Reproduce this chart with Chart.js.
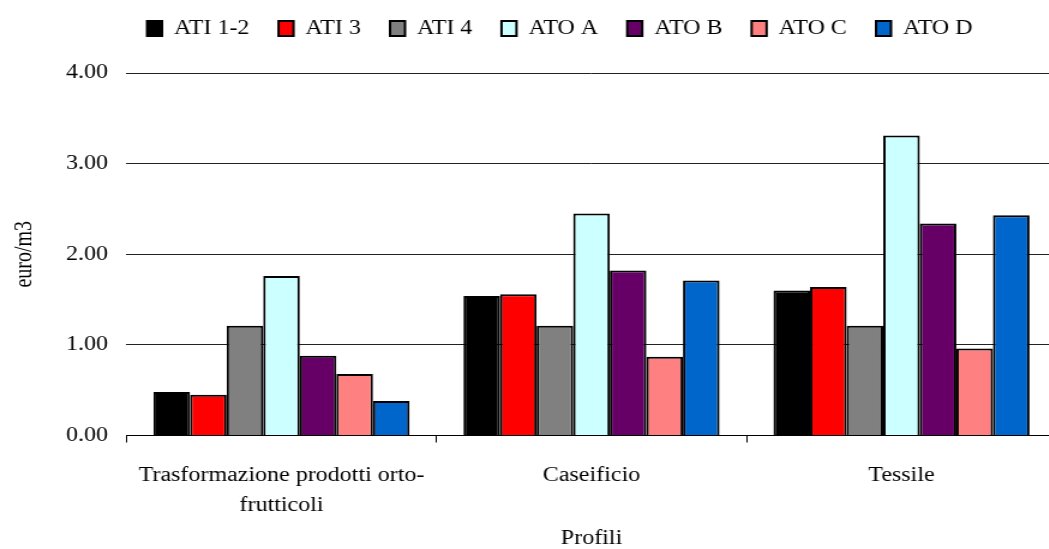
<!DOCTYPE html>
<html>
<head>
<meta charset="utf-8">
<script src="https://cdn.jsdelivr.net/npm/chart.js@4.4.1/dist/chart.umd.min.js"></script>
<style>
  html, body { margin: 0; padding: 0; background: #fff; overflow: hidden; }
  #wrap { width: 884px; height: 549px; transform: scaleX(1.2); transform-origin: 0 0; }
</style>
</head>
<body>
<div id="wrap"><canvas id="c" width="884" height="549"></canvas></div>
<script>
const categories = [["Trasformazione prodotti orto-", "frutticoli"], "Caseificio", "Tessile"];
const seriesNames = ["ATI 1-2", "ATI 3", "ATI 4", "ATO A", "ATO B", "ATO C", "ATO D"];
const ati12 = [0.48, 1.54, 1.60];
const ati3  = [0.45, 1.56, 1.64];
const ati4  = [1.21, 1.21, 1.21];
const atoA  = [1.76, 2.45, 3.31];
const atoB  = [0.88, 1.82, 2.34];
const atoC  = [0.68, 0.87, 0.96];
const atoD  = [0.38, 1.71, 2.43];
const yTicks = [0, 1, 2, 3, 4];
const yTitle = "euro/m3";
const xTitle = "Profili";

const colors = ["#000000", "#FF0000", "#808080", "#CCFFFF", "#660066", "#FF8080", "#0066CC"];
const values = [ati12, ati3, ati4, atoA, atoB, atoC, atoD];

const FONT = "'Liberation Serif', 'Times New Roman', serif";

const legendShift = {
  id: 'legendShift',
  afterLayout(chart) {
    const lg = chart.legend;
    if (!lg) return;
    const dx = 466.5 - (lg.left + lg.right) / 2;
    const dy = -24.5;
    lg.left += dx; lg.right += dx;
    lg.top += dy; lg.bottom += dy;
  }
};

new Chart(document.getElementById('c'), {
  type: 'bar',
  data: {
    labels: categories,
    datasets: seriesNames.map((name, i) => ({
      label: name,
      data: values[i],
      backgroundColor: colors[i],
      borderColor: '#000000',
      borderWidth: 2,
      categoryPercentage: 0.826,
      barPercentage: 1.0
    }))
  },
  options: {
    responsive: false,
    animation: false,
    layout: { padding: { left: 0, right: 3.6, top: 18.7, bottom: 0 } },
    plugins: {
      tooltip: { enabled: false },
      legend: {
        position: 'top',
        labels: {
          font: { family: FONT, size: 20 },
          color: '#000',
          boxWidth: 12.5,
          boxHeight: 15,
          padding: 24.3
        }
      }
    },
    scales: {
      x: {
        afterFit(scale) { scale.height = 113.5; },
        grid: { display: true, drawOnChartArea: false, drawTicks: true, tickLength: 7, color: '#000', offset: true },
        border: { display: true, color: '#000', width: 1 },
        ticks: {
          font: { family: FONT, size: 20, lineHeight: 1.535 },
          color: '#000',
          padding: 17.5,
          maxRotation: 0,
          autoSkip: false
        },
        title: {
          display: true,
          text: xTitle,
          font: { family: FONT, size: 20 },
          color: '#000',
          padding: { top: 0, bottom: -2 }
        }
      },
      y: {
        min: 0,
        max: 4,
        afterFit(scale) { scale.width = 105.4; },
        afterBuildTicks(scale) { scale.ticks = yTicks.map(v => ({ value: v })); },
        grid: { color: '#222', lineWidth: 1, drawTicks: false },
        border: { display: false },
        ticks: {
          font: { family: FONT, size: 20 },
          color: '#000',
          padding: 15.4,
          callback: (v) => Number(v).toFixed(2)
        },
        title: {
          display: true,
          text: yTitle,
          font: { family: FONT, size: 20 },
          color: '#000',
          padding: { top: 9, bottom: 0 }
        }
      }
    }
  },
  plugins: [legendShift]
});
</script>
</body>
</html>
